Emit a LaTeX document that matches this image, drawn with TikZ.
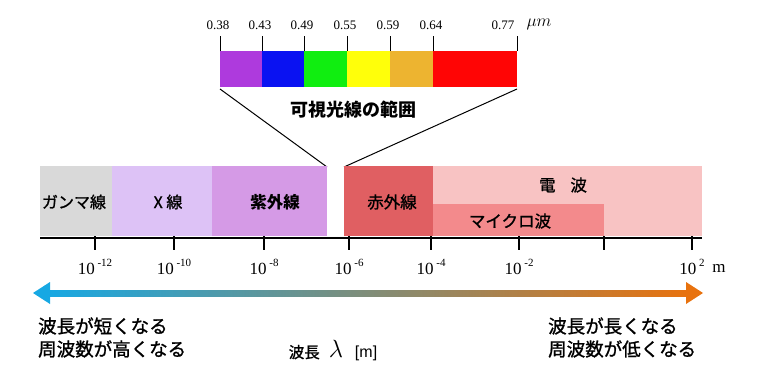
\documentclass[tikz,border=0pt]{standalone}
\usepackage{fontspec}
\setmainfont{Liberation Serif}
\newfontfamily\jp{Noto Sans CJK JP}
\newfontfamily\jpm[FakeBold=1.2]{Noto Sans CJK JP}
\newfontfamily\lsans{Liberation Sans}
\usetikzlibrary{arrows.meta}
\definecolor{cPur}{HTML}{AE3ADD}
\definecolor{cBlu}{HTML}{0A12F2}
\definecolor{cGrn}{HTML}{10EE10}
\definecolor{cYel}{HTML}{FFFF0A}
\definecolor{cOra}{HTML}{EDB430}
\definecolor{cRed}{HTML}{FF0505}
\definecolor{cGam}{HTML}{D9D9D9}
\definecolor{cXr}{HTML}{DDC2F6}
\definecolor{cUV}{HTML}{D59AE6}
\definecolor{cIR}{HTML}{E05F62}
\definecolor{cRad}{HTML}{F8C3C3}
\definecolor{cMic}{HTML}{F38A8C}
\definecolor{cL}{HTML}{17A8E3}
\definecolor{cR}{HTML}{E8720E}
\tikzset{
  band/.style={draw=none, inner sep=0pt, outer sep=0pt, anchor=north west},
  lbl/.style={font=\jp\bfseries\fontsize{16.5}{18}\selectfont, inner sep=0pt},
  num/.style={font=\fontsize{17}{19}\selectfont, inner sep=0pt},
  snum/.style={font=\fontsize{13}{15}\selectfont, inner sep=0pt},
  note/.style={font=\jpm\fontsize{18.5}{21}\selectfont, inner sep=0pt, align=left, anchor=west},
}
\newcommand{\tenexp}[1]{10\,\raisebox{0.5em}{\fontsize{11}{12}\selectfont #1}}
\begin{document}
\begin{tikzpicture}[x=1pt,y=-1pt]
\useasboundingbox (0,0) rectangle (768,380);
% visible bar
\foreach \a/\b/\c [count=\i] in {220/262/cPur,262/304/cBlu,304/347/cGrn,347/390/cYel,390/433/cOra,433/517/cRed}{
  \fill[\c] (\a,51) rectangle (\b,87);
}
\node[band, minimum width=297pt, minimum height=36pt] (vis) at (220,51) {};
\foreach \x/\t in {220/0.38,262/0.43,304/0.49,347/0.55,390/0.59,433/0.64}{
  \draw[line width=1pt] (\x,36) -- (\x,51);
  \node[snum] at (\x-2,25) {\t};
}
\draw[line width=1pt] (517,36) -- (517,51);
\node[snum] (t77) at (503,25) {0.77};
\node[font=\fontsize{18}{20}\selectfont, inner sep=0pt] (um) at (539,24) {$\mu m$};
\node[lbl, font=\jp\bfseries\fontsize{18}{20}\selectfont] (vislbl) at (353,110) {可視光線の範囲};
\coordinate (zl) at (327,167);
\coordinate (zr) at (344,167);
\draw[line width=1pt] (vis.south west) ++(0,2) -- (zl);
\draw[line width=1pt] (vis.south east) ++(0,2) -- (zr);
% bands
\node[band, fill=cGam, minimum width=72pt, minimum height=70pt] (gam) at (40,166) {};
\node[band, fill=cXr, minimum width=100pt, minimum height=70pt] (xr) at (112,166) {};
\node[band, fill=cUV, minimum width=115pt, minimum height=70pt] (uv) at (212,166) {};
\node[band, fill=cIR, minimum width=89pt, minimum height=70pt] (ir) at (344,166) {};
\node[band, fill=cRad, minimum width=269pt, minimum height=70pt] (rad) at (433,166) {};
\node[band, fill=cMic, minimum width=171pt, minimum height=32pt] (mic) at (433,204) {};
\node[lbl, font=\jpm\fontsize{16}{18}\selectfont] at (74,202) {ガンマ線};
\node[lbl, font=\jpm\fontsize{16}{18}\selectfont] at (168,202) {X 線};
\node[lbl] at (275,202) {紫外線};
\node[lbl, font=\jpm\fontsize{16.5}{18}\selectfont] at (392,202) {赤外線};
\node[lbl, font=\jpm\fontsize{16.5}{18}\selectfont] at (563,185) {電\hspace{0.9em}波};
\node[lbl, font=\jpm\fontsize{16.5}{18}\selectfont] at (510,221) {マイクロ波};
% axis
\coordinate (a0) at (40,238);
\coordinate (a1) at (702,238);
\draw[line width=1.3pt] (a0) -- (a1);
\foreach \x/\e in {95/-12,174/-10,264/-8,349/-6,431/-4,519/-2}{
  \draw[line width=1.3pt] (\x,236) -- (\x,250);
  \node[num] at (\x,267) {\tenexp{\e}};
}
\draw[line width=1.3pt] (604,236) -- (604,250);
\draw[line width=1.3pt] (692,236) -- (692,250);
\node[num] at (692,267) {\tenexp{2}};
\node[num] (m) at (719,268) {m};
% gradient arrow
\coordinate (gl) at (33,293);
\coordinate (gr) at (703,293);
\shade[left color=cL, right color=cR] (48,290) rectangle (688,296);
\fill[cL] (gl) -- (50,282) -- (50,304) -- cycle;
\fill[cR] (gr) -- (686,282) -- (686,304) -- cycle;
% notes
\node[note] at (38,326) {波長が短くなる};
\node[note] at (38,349) {周波数が高くなる};
\node[note] at (548,326) {波長が長くなる};
\node[note] at (548,349) {周波数が低くなる};
\node[inner sep=0pt] (wl) at (333,351) {{\jpm\fontsize{15.5}{17}\selectfont 波長}\hspace{9pt}{\fontsize{24}{24}\selectfont$\lambda$}\hspace{12pt}{\lsans\fontsize{16}{17}\selectfont[m]}};
\end{tikzpicture}
\end{document}
